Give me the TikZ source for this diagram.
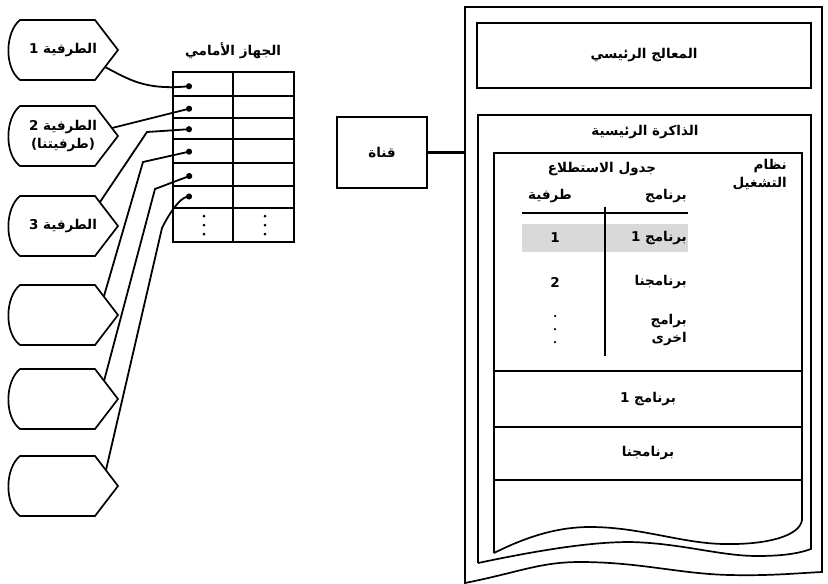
\documentclass[tikz,border=0pt]{standalone}
\usepackage{fontspec}
\usetikzlibrary{arrows.meta, positioning, calc}
\newfontfamily\arabicfont[Script=Arabic]{DejaVu Sans}
\TeXXeTstate=1
\newcommand{\rl}[1]{\beginR #1\endR}

\begin{document}
\begin{tikzpicture}[
  x=1pt, y=-1pt,
  artext/.style={font=\arabicfont\bfseries\fontsize{13.5}{18}\selectfont, inner sep=1pt, align=center},
  frame/.style={line width=1.7pt},
  conn/.style={line width=1.8pt, -{Circle[length=6pt]}},
  plainbox/.style={draw, line width=1.7pt, inner sep=0pt},
  dotmark/.style={circle, fill, inner sep=0pt, minimum size=3pt}
]
  \useasboundingbox (0,0) rectangle (828,584);

  % terminals
  \foreach \n/\c in {1/50,2/136,3/226,4/315,5/399,6/486}
    \draw[frame] (95,\c-30) -- (20,\c-30) .. controls (5,\c-18) and (4,\c+18) .. (20,\c+30) -- (95,\c+30) -- (118,\c) -- cycle;
  \node[artext] (t1) at (63,50) {\rl{الطرفية 1}};
  \node[artext] (t2) at (63,136) {\rl{الطرفية 2}\\\rl{(طرفيتنا)}};
  \node[artext] (t3) at (63,226) {\rl{الطرفية 3}};
  \coordinate (t1-out) at (105,67);
  \coordinate (t2-out) at (112,128);
  \coordinate (t3-out) at (100,202);
  \coordinate (t4-out) at (104,296);
  \coordinate (t5-out) at (104,381);
  \coordinate (t6-out) at (106,470);

  % front end
  \node[artext] (fetitle) at (233,51) {\rl{الجهاز الأمامي}};
  \draw[frame] (173,72) rectangle (294,242);
  \foreach \yy in {96,118,139,163,186,208}
    \draw[line width=1.4pt] (173,\yy) -- (294,\yy);
  \draw[frame] (233,72) -- (233,242);
  \foreach \k/\xx in {1/204,2/265} {
    \node[dotmark] (fedotA\k) at (\xx,216) {};
    \node[dotmark] (fedotB\k) at (\xx,225) {};
    \node[dotmark] (fedotC\k) at (\xx,234) {};
  }
  \foreach \k/\yy in {1/86,2/108,3/129,4/151,5/175,6/196}
    \coordinate (fe\k) at (192,\yy);

  \draw[conn] (t1-out) .. controls (130,80) and (145,90) .. (fe1);
  \draw[conn] (t2-out) -- (fe2);
  \draw[conn] (t3-out) -- (147,132) -- (fe3);
  \draw[conn] (t4-out) -- (143,162) -- (fe4);
  \draw[conn] (t5-out) -- (155,189) -- (fe5);
  \draw[conn] (t6-out) -- (162,228) .. controls (170,212) and (180,198) .. (fe6);

  % channel
  \node[plainbox, artext, minimum width=90pt, minimum height=71pt] (chan) at (382,152.5) {\rl{قناة}};
  \coordinate (hostin) at (465,152.5);
  \draw[line width=2.2pt] (chan.east) -- (hostin);

  % host computer
  \draw[frame] (465,7) -- (822,7) -- (822,572)
    .. controls (800,573) and (770,576) .. (730,575)
    .. controls (680,574) and (640,562) .. (580,562)
    .. controls (540,562) and (520,572) .. (465,583) -- cycle;
  \node[plainbox, artext, minimum width=334pt, minimum height=65pt] (cpu) at (644,55.5) {\rl{المعالج الرئيسي}};

  \draw[frame] (478,563) -- (478,115) -- (811,115) -- (811,549)
    .. controls (800,553) and (785,556) .. (757,556)
    .. controls (720,556) and (680,543) .. (630,542)
    .. controls (590,542) and (540,550) .. (478,563);
  \node[artext] (memtitle) at (645,132) {\rl{الذاكرة الرئيسية}};

  \fill[gray!30] (522,224) rectangle (688,252);
  \draw[frame] (494,553) -- (494,153) -- (802,153) -- (802,520)
    .. controls (800,535) and (770,545) .. (723,544)
    .. controls (680,543) and (640,527) .. (590,527)
    .. controls (560,527) and (530,535) .. (494,553);
  \foreach \yy in {371,427,480}
    \draw[frame] (494,\yy) -- (802,\yy);

  % polling table
  \node[artext] (polltitle) at (602,169) {\rl{جدول الاستطلاع}};
  \node[artext, align=right, anchor=north east] (os) at (788,158) {\rl{نظام}\\\rl{التشغيل}};
  \node[artext] (colterm) at (550,196) {\rl{طرفية}};
  \node[artext, anchor=east] (colprog) at (688,196) {\rl{برنامج}};
  \draw[frame] (522,213) -- (688,213);
  \draw[frame] (605,207) -- (605,356);
  \node[artext] (term1) at (555,238) {1};
  \node[artext, anchor=east] (prog1) at (688,238) {\rl{برنامج 1}};
  \node[artext] (term2) at (555,282) {2};
  \node[artext, anchor=east] (prog2) at (688,282) {\rl{برنامجنا}};
  \foreach \yy in {316,329,342}
    \node[dotmark, minimum size=2.5pt] at (555,\yy) {};
  \node[artext, anchor=north east, align=right] (progn) at (688,313) {\rl{برامج}\\\rl{اخرى}};

  % program areas
  \node[artext] (area1) at (648,399) {\rl{برنامج 1}};
  \node[artext] (area2) at (648,453) {\rl{برنامجنا}};
\end{tikzpicture}
\end{document}
